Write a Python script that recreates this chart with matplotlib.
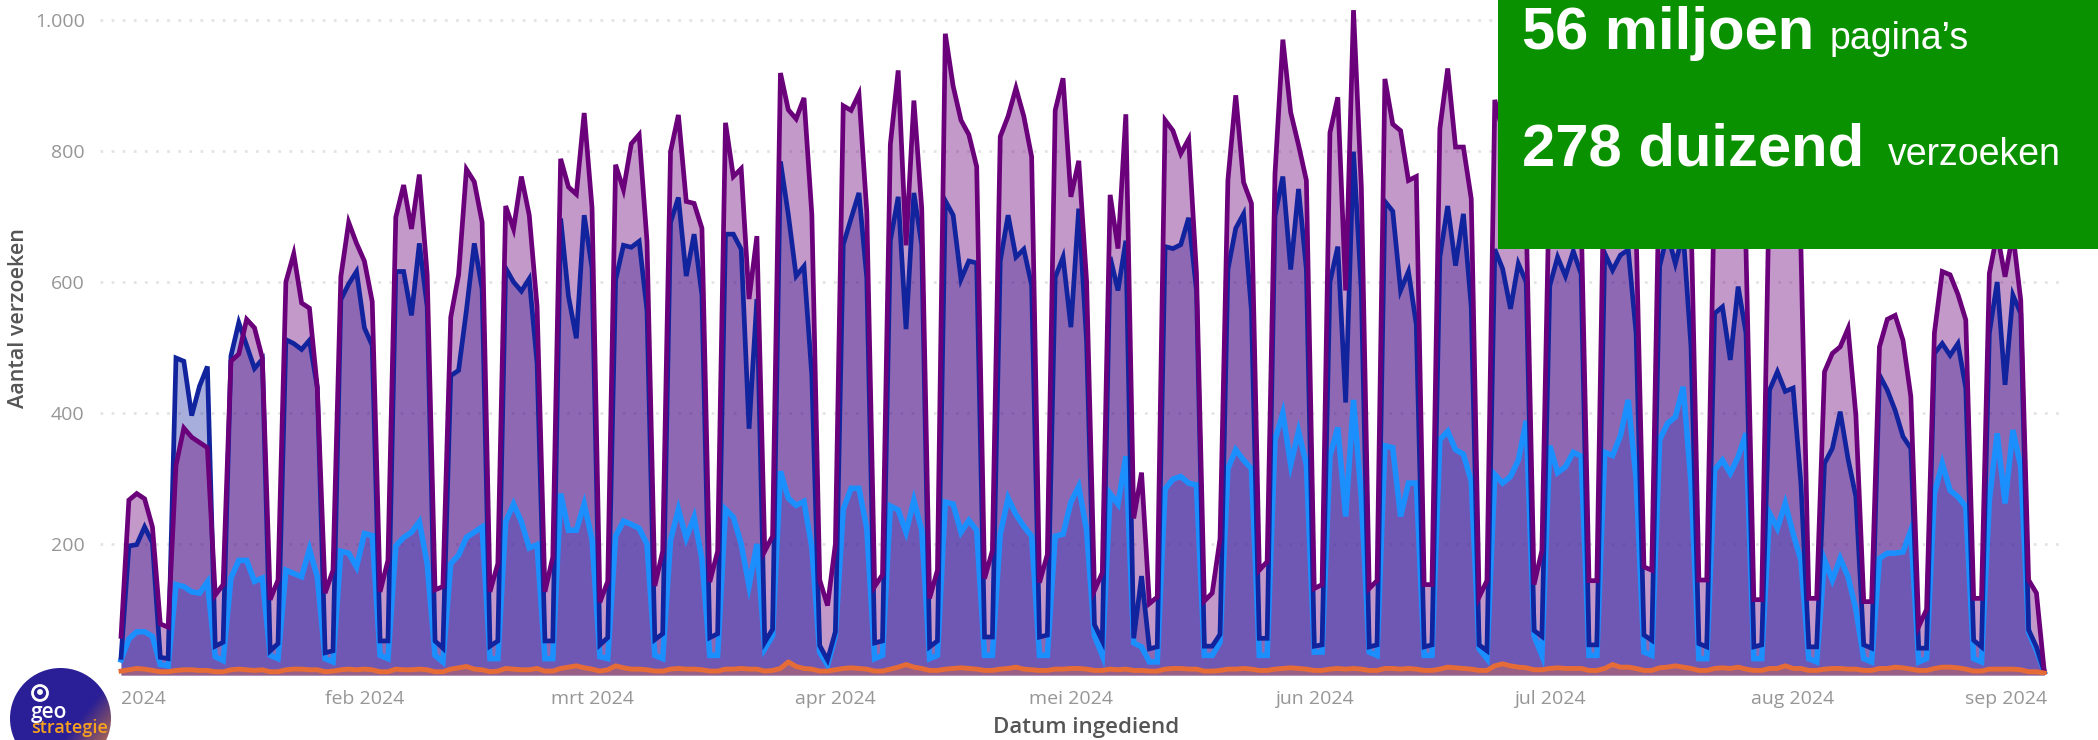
import numpy as np
import pandas as pd
import matplotlib
matplotlib.use("Agg")
import matplotlib.pyplot as plt
from matplotlib.patches import Circle, Rectangle
from matplotlib.transforms import ScaledTranslation

W, H = 2098, 740

# one row per week, monday to sunday, last value is monday 2 september
dates = pd.date_range("2024-01-01", periods=246)

purple = [
    59, 267, 277, 269, 226, 78, 73,
    320, 377, 363, 355, 347, 122, 138,
    479, 490, 543, 530, 484, 115, 145,
    600, 643, 568, 560, 439, 125, 160,
    608, 691, 659, 632, 570, 127, 175,
    699, 748, 681, 764, 611, 130, 135,
    546, 611, 772, 753, 691, 127, 170,
    716, 681, 761, 702, 562, 127, 180,
    788, 745, 734, 858, 713, 111, 143,
    779, 741, 811, 825, 662, 136, 189,
    799, 855, 723, 720, 682, 142, 189,
    843, 761, 773, 574, 670, 189, 212,
    919, 863, 849, 881, 703, 145, 106,
    200, 869, 862, 887, 707, 135, 153,
    810, 923, 656, 877, 712, 117, 160,
    979, 899, 847, 825, 776, 147, 190,
    822, 853, 896, 853, 791, 141, 184,
    862, 911, 730, 785, 601, 129, 156,
    733, 651, 856, 239, 309, 109, 119,
    847, 831, 796, 818, 613, 113, 125,
    208, 755, 885, 752, 720, 160, 173,
    765, 970, 859, 809, 755, 132, 138,
    828, 882, 587, 1015, 745, 132, 144,
    910, 841, 831, 755, 761, 138, 138,
    834, 926, 806, 806, 727, 119, 144,
    878, 830, 800, 780, 700, 138, 190,
    780, 860, 830, 880, 700, 144, 144,
    830, 880, 800, 790, 680, 165, 160,
    800, 860, 820, 870, 700, 145, 145,
    760, 880, 850, 850, 650, 115, 115,
    770, 880, 880, 850, 650, 117, 117,
    463, 491, 501, 529, 396, 112, 112,
    501, 543, 549, 511, 425, 74, 100,
    522, 616, 611, 581, 542, 117, 117,
    613, 674, 608, 674, 572, 145, 125,
    5,
]

navy = [
    27, 197, 199, 226, 202, 27, 25,
    484, 479, 396, 441, 471, 44, 50,
    487, 538, 503, 468, 482, 37, 48,
    512, 506, 497, 511, 439, 34, 37,
    573, 597, 616, 530, 503, 52, 52,
    616, 616, 549, 659, 562, 52, 41,
    457, 465, 557, 659, 589, 44, 52,
    621, 600, 586, 605, 476, 52, 52,
    697, 578, 514, 702, 621, 46, 57,
    603, 656, 653, 662, 557, 54, 63,
    691, 729, 609, 673, 580, 57, 63,
    673, 673, 650, 376, 574, 50, 70,
    784, 703, 609, 624, 457, 45, 23,
    66, 657, 697, 736, 606, 49, 52,
    663, 730, 528, 736, 656, 43, 52,
    724, 702, 604, 632, 629, 58, 58,
    632, 702, 638, 650, 595, 58, 61,
    607, 638, 531, 712, 509, 77, 52,
    638, 587, 663, 56, 151, 40, 43,
    654, 651, 657, 698, 587, 44, 44,
    62, 619, 682, 704, 556, 56, 56,
    701, 761, 619, 742, 619, 44, 46,
    600, 654, 416, 799, 587, 43, 46,
    723, 708, 587, 616, 535, 43, 46,
    638, 716, 625, 704, 562, 46, 37,
    650, 620, 559, 628, 600, 68, 59,
    594, 638, 609, 647, 612, 46, 46,
    644, 618, 641, 649, 522, 61, 53,
    624, 674, 628, 674, 500, 48, 43,
    552, 562, 481, 593, 522, 43, 46,
    435, 463, 433, 438, 292, 43, 43,
    323, 346, 402, 330, 272, 46, 41,
    458, 435, 404, 364, 346, 41, 41,
    491, 506, 488, 506, 438, 53, 43,
    522, 600, 443, 580, 552, 69, 43,
    5,
]

blue = [
    23, 55, 66, 66, 59, 16, 14,
    138, 135, 127, 125, 142, 28, 22,
    148, 175, 175, 143, 148, 30, 25,
    160, 155, 150, 192, 150, 25, 20,
    189, 186, 165, 216, 213, 30, 25,
    197, 210, 218, 234, 170, 30, 20,
    170, 183, 210, 218, 226, 25, 25,
    234, 261, 234, 194, 199, 25, 25,
    277, 221, 221, 261, 207, 28, 25,
    212, 235, 230, 224, 200, 30, 25,
    206, 253, 209, 241, 177, 30, 30,
    253, 241, 200, 136, 200, 40, 60,
    311, 270, 259, 265, 195, 35, 15,
    60, 253, 285, 285, 224, 25, 30,
    258, 252, 218, 267, 221, 25, 30,
    264, 261, 218, 236, 221, 30, 30,
    215, 270, 245, 227, 212, 30, 30,
    212, 215, 264, 288, 221, 60, 30,
    277, 261, 334, 49, 43, 20, 20,
    284, 299, 303, 293, 290, 30, 30,
    50, 315, 344, 328, 315, 30, 30,
    359, 400, 321, 372, 321, 35, 35,
    334, 378, 242, 420, 271, 35, 30,
    350, 347, 242, 293, 293, 30, 30,
    359, 372, 344, 337, 296, 40, 25,
    306, 293, 303, 328, 388, 60, 30,
    350, 309, 318, 340, 334, 30, 30,
    340, 335, 365, 420, 300, 35, 30,
    359, 384, 394, 440, 293, 25, 25,
    313, 328, 308, 333, 369, 25, 25,
    247, 224, 262, 216, 175, 25, 20,
    176, 145, 178, 150, 100, 25, 20,
    178, 186, 186, 188, 221, 20, 25,
    277, 323, 282, 272, 257, 25, 20,
    267, 369, 262, 374, 318, 65, 38,
    5,
]

orange = [
    6, 8, 10, 9, 7, 5, 5,
    7, 8, 8, 7, 7, 5, 5,
    8, 9, 8, 7, 8, 5, 5,
    8, 9, 9, 8, 8, 5, 6,
    8, 9, 8, 9, 8, 5, 5,
    9, 8, 8, 9, 8, 5, 5,
    9, 11, 13, 9, 8, 5, 6,
    10, 9, 8, 8, 10, 6, 6,
    10, 12, 14, 11, 9, 6, 8,
    14, 11, 9, 9, 8, 6, 6,
    9, 10, 9, 9, 8, 6, 6,
    9, 9, 10, 9, 9, 6, 7,
    10, 20, 13, 10, 9, 6, 6,
    8, 10, 11, 10, 9, 6, 6,
    9, 12, 16, 12, 10, 7, 7,
    9, 10, 11, 10, 9, 7, 7,
    9, 10, 12, 9, 8, 7, 7,
    9, 9, 10, 10, 9, 7, 7,
    9, 8, 9, 7, 7, 6, 6,
    9, 10, 10, 9, 9, 6, 6,
    7, 9, 9, 10, 9, 7, 7,
    9, 10, 11, 10, 9, 7, 7,
    9, 10, 9, 10, 9, 7, 7,
    10, 10, 9, 10, 9, 7, 7,
    9, 12, 11, 10, 9, 7, 7,
    14, 17, 14, 12, 11, 8, 8,
    10, 11, 10, 10, 10, 7, 7,
    10, 16, 12, 12, 10, 7, 7,
    11, 12, 14, 12, 10, 7, 7,
    10, 11, 10, 12, 9, 7, 7,
    10, 10, 14, 10, 10, 7, 7,
    9, 10, 10, 9, 9, 7, 7,
    10, 10, 12, 11, 9, 7, 7,
    10, 12, 12, 11, 9, 6, 6,
    9, 9, 9, 9, 8, 5, 5,
    3,
]

y_ticks = [200, 400, 600, 800, 1000]
y_labels = ["200", "400", "600", "800", "1.000"]
x_ticks = pd.to_datetime(["2024-01-01", "2024-02-01", "2024-03-01", "2024-04-01", "2024-05-01",
                          "2024-06-01", "2024-07-01", "2024-08-01", "2024-09-01"])
x_labels = ["2024", "feb 2024", "mrt 2024", "apr 2024", "mei 2024",
            "jun 2024", "jul 2024", "aug 2024", "sep 2024"]

plt.rcParams["font.family"] = ["Open Sans", "DejaVu Sans"]

fig = plt.figure(figsize=(W / 100, H / 100), dpi=100)

# plot area in pixels: left 100, right 2060, baseline at 675, top edge of the figure
ax = fig.add_axes([100 / W, (H - 675) / H, 1960 / W, 675 / H])
ax.set_xlim(pd.Timestamp("2024-01-01") - pd.Timedelta(days=2.68),
            pd.Timestamp("2024-01-01") + pd.Timedelta(days=247))
ax.set_ylim(0, 1030.5)

series = [(blue, "#1C8FFF", 4, 0.37), (navy, "#12239E", 3.4, 0.37), (purple, "#6B007B", 3.4, 0.4)]
for values, color, width, alpha in series:
    ax.fill_between(dates, values, 0, color=color, alpha=alpha, linewidth=0, zorder=2)
    ax.plot(dates, values, color=color, linewidth=width, solid_joinstyle="miter", zorder=3)
ax.fill_between(dates, orange, 0, color="#E66C37", alpha=0.37, linewidth=0, zorder=4)
ax.plot(dates, orange, color="#E66C37", linewidth=3.5, zorder=5)

ax.set_yticks(y_ticks)
ax.set_yticklabels(y_labels)
ax.set_xticks(x_ticks)
ax.set_xticklabels(x_labels)
ax.tick_params(axis="both", length=0, labelsize=14, labelcolor="#969696")
ax.tick_params(axis="x", pad=11)
ax.tick_params(axis="y", pad=11)
labels = ax.get_xticklabels()
labels[0].set_ha("left")
labels[-1].set_ha("right")
labels[-1].set_transform(labels[-1].get_transform() + ScaledTranslation(11 / 100, 0, fig.dpi_scale_trans))
ax.grid(axis="y", color="#e4e4e4", linestyle=(0, (1, 3)), linewidth=2, zorder=1)
ax.set_axisbelow(True)
for side in ["top", "right", "bottom", "left"]:
    ax.spines[side].set_visible(False)

# overlay in pixel coordinates for axis titles, green box and logo
over = fig.add_axes([0, 0, 1, 1], facecolor="none")
over.set_xlim(0, W)
over.set_ylim(H, 0)
over.axis("off")

over.text(1086, 727, "Datum ingediend", color="#555555", fontsize=16, fontweight="semibold",
          ha="center", va="center")
over.text(19, 318, "Aantal verzoeken", color="#555555", fontsize=15.5, fontweight="semibold",
          rotation=90, ha="center", va="center")

over.add_patch(Rectangle((1498, 0), W - 1498, 249, color="#0A9100", linewidth=0, zorder=6))
big = dict(family=["Liberation Sans"], color="white", fontweight="bold", fontsize=43, zorder=7)
small = dict(family=["Liberation Sans"], color="white", fontsize=27, zorder=7)
over.text(1522, 49, "56 miljoen", va="baseline", **big)
over.text(1830, 49, "pagina\u2019s", va="baseline", **small)
over.text(1522, 165, "278 duizend", va="baseline", **big)
over.text(1888, 165, "verzoeken", va="baseline", **small)

# logo, circle runs off the bottom of the picture
gx, gy = np.meshgrid(np.linspace(0, 1, 120), np.linspace(0, 1, 120))
mix = np.clip((gx + gy * 0.8 - 1.1) / 0.7, 0, 1)
rgb = np.dstack([(1 - mix) * a + mix * b for a, b in zip((42, 31, 150), (235, 140, 50))]) / 255
img = over.imshow(rgb, extent=(10, 111, 769, 668), aspect="auto", zorder=8)
img.set_clip_path(Circle((60.5, 718.5), 50.5, transform=over.transData))
over.set_xlim(0, W)
over.set_ylim(H, 0)
over.add_patch(Circle((40, 693), 7.5, fill=False, edgecolor="white", linewidth=2, zorder=9))
over.add_patch(Circle((40, 692), 2.2, color="white", zorder=9))
over.text(31, 718, "geo", color="white", fontsize=15, fontweight="semibold", va="baseline", zorder=9)
over.text(31, 733, "strategie", color="#F7A11F", fontsize=13, fontweight="semibold", va="baseline", zorder=9)

fig.savefig("out.png", dpi=100)
